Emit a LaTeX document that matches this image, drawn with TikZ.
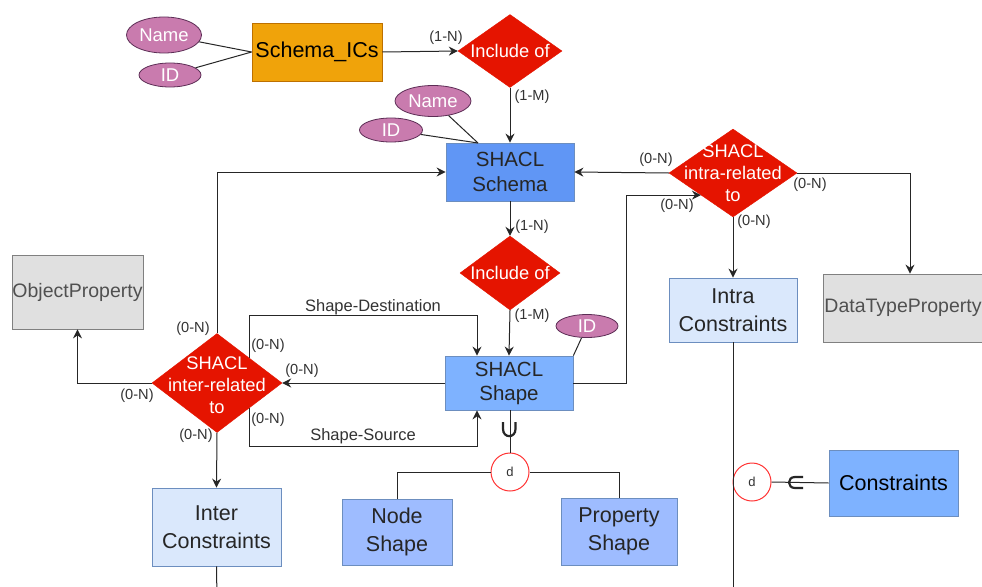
\documentclass[tikz,border=0pt]{standalone}
\usepackage{fontspec}
\setmainfont{Liberation Sans}
\usetikzlibrary{shapes.geometric,arrows.meta}

\definecolor{attrFill}{RGB}{201,123,174}
\definecolor{attrLine}{RGB}{92,45,85}
\definecolor{relRed}{RGB}{229,20,0}
\definecolor{icsFill}{RGB}{240,163,10}
\definecolor{icsLine}{RGB}{189,112,0}
\definecolor{schemaFill}{RGB}{96,150,245}
\definecolor{shapeFill}{RGB}{126,178,255}
\definecolor{subFill}{RGB}{158,188,255}
\definecolor{lightFill}{RGB}{218,232,252}
\definecolor{blueLine}{RGB}{108,142,191}
\definecolor{grayFill}{RGB}{224,224,224}
\definecolor{grayLine}{RGB}{128,128,128}
\definecolor{grayText}{RGB}{80,80,80}
\definecolor{cardText}{RGB}{51,51,51}
\definecolor{dRed}{RGB}{255,51,51}

\newcommand\fsBox{\fontsize{20.5}{23}\selectfont}
\newcommand\fsBig{\fontsize{21.5}{28}\selectfont}
\newcommand\fsRel{\fontsize{18.3}{22}\selectfont}
\newcommand\fsCard{\fontsize{14.6}{16}\selectfont}
\newcommand\fsLink{\fontsize{16.5}{18}\selectfont}
\newcommand\fsAttr{\fontsize{18.5}{20}\selectfont}
\newcommand\fsProp{\fontsize{19.5}{22}\selectfont}
\newcommand\fsD{\fontsize{13}{15}\selectfont}

\begin{document}
\begin{tikzpicture}[x=1pt,y=-1pt,
  box/.style={rectangle, draw=blueLine, line width=0.8pt, inner sep=0pt, align=center, text=black!85},
  attr/.style={ellipse, draw=attrLine, fill=attrFill, line width=0.8pt, text=white, inner sep=0pt, font=\fsAttr},
  rel/.style={diamond, fill=relRed, draw=relRed, inner sep=0pt},
  reltext/.style={text=white, align=center, font=\fsRel},
  card/.style={font=\fsCard, text=cardText, inner sep=1pt},
  linklabel/.style={font=\fsLink, text=cardText, inner sep=1pt},
  arr/.style={-{Stealth[length=9pt,width=9pt,inset=3pt]}, line width=1pt, draw=black!85},
  link/.style={line width=1pt, draw=black!85},
  dnode/.style={circle, draw=dRed, fill=white, line width=1pt, minimum size=38pt, inner sep=0pt, font=\fsD, text=cardText}]

\clip (0,0) rectangle (982,586);
\fill[white] (0,0) rectangle (982,586);

% ---------- entities ----------
\node[box, draw=icsLine, fill=icsFill, minimum width=130pt, minimum height=58pt, font=\fsBig, text=black] (ics) at (317,52) {Schema\_ICs};
\node[box, fill=schemaFill, minimum width=128pt, minimum height=58pt, font=\fsBox] (schema) at (510,172) {SHACL\\[2pt]Schema};
\node[box, fill=shapeFill, minimum width=128pt, minimum height=54pt, font=\fsBox] (shape) at (509,383) {SHACL\\[1pt]Shape};
\node[box, fill=lightFill, minimum width=128pt, minimum height=64pt, font=\fsBig] (intraC) at (733,310) {Intra\\Constraints};
\node[box, fill=lightFill, minimum width=129pt, minimum height=78pt, font=\fsBig] (interC) at (216.5,527) {Inter\\Constraints};
\node[box, fill=subFill, minimum width=110pt, minimum height=66pt, font=\fsBig] (nodeS) at (397,532) {Node\\Shape};
\node[box, fill=subFill, minimum width=116pt, minimum height=67pt, font=\fsBig] (propS) at (619,531.5) {Property\\Shape};
\node[box, fill=shapeFill, minimum width=129pt, minimum height=66pt, font=\fsBig, text=black] (cons) at (893.5,483) {Constraints};
\node[box, draw=grayLine, fill=grayFill, text=grayText, minimum width=131pt, minimum height=74pt, font=\fsProp] (objp) at (77.5,292) {ObjectProperty};
\node[box, draw=grayLine, fill=grayFill, text=grayText, minimum width=174pt, minimum height=68pt, font=\fsProp] (dtp) at (910,308) {\hspace*{-14pt}DataTypeProperty};

% ---------- attributes ----------
\node[attr, minimum width=75pt, minimum height=36pt] (name1) at (164,35) {Name};
\node[attr, minimum width=62pt, minimum height=24pt] (id1) at (170,75) {ID};
\node[attr, minimum width=76pt, minimum height=31pt] (name2) at (433,101) {Name};
\node[attr, minimum width=63pt, minimum height=24pt] (id2) at (391,130) {ID};
\node[attr, minimum width=62pt, minimum height=23pt] (id3) at (587,326) {ID};

% ---------- relationships ----------
\node[rel, minimum width=104pt, minimum height=73pt,
  label={[reltext]center:Include of}] (inc1) at (510,51) {};
\node[rel, minimum width=100pt, minimum height=74pt,
  label={[reltext]center:Include of}] (inc2) at (510,273) {};
\node[rel, minimum width=128pt, minimum height=88pt,
  label={[reltext]center:SHACL\\intra-related\\to}] (intra) at (733,173) {};
\node[rel, minimum width=130pt, minimum height=99pt,
  label={[reltext, yshift=-2pt]center:SHACL\\inter-related\\to}] (inter) at (217,383) {};

% ---------- disjointness circles ----------
\node[dnode] (d1) at (510,472) {d};
\node[dnode] (d2) at (752,482) {d};

% ---------- free ends leaving the page ----------
\coordinate (intraEnd) at (733,600);
\coordinate (interEnd) at (217,600);
\coordinate (schemaAttr) at (478,143);

% ---------- attribute links ----------
\draw[link] (name1) -- (ics.west);
\draw[link] (id1) -- (ics.west);
\draw[link] (name2) -- (schemaAttr);
\draw[link] (id2) -- (schemaAttr);
\draw[link] (id3) -- (shape.north east);

% ---------- relationship links ----------
\draw[arr] (ics.east) -- (inc1.west);
\draw[arr] (inc1.south) -- (schema.north);
\draw[arr] (schema.south) -- (inc2.north);
\draw[arr] (inc2.south) -- (shape.north);
\draw[arr] (intra.west) -- (schema.east);
\draw[arr] (intra.east) -| (dtp.north);
\draw[arr] (intra.south) -- (intraC.north);
\draw[arr] (shape.east) -- ++(53,0) |- (intra.south west);
\draw[arr] (shape.west) -- (inter.east);
\draw[arr] (inter.north) |- (schema.west);
\draw[arr] (inter.west) -| (objp.south);
\draw[arr] (inter.south) -- (interC.north);
\draw[arr] (inter.north east) |- ([xshift=-32pt,yshift=40pt]shape.north) -- ([xshift=-32pt]shape.north);
\draw[arr] (inter.south east) |- ([xshift=-32pt,yshift=-36pt]shape.south) -- ([xshift=-32pt]shape.south);
\draw[link] (intraC.south) -- (intraEnd);
\draw[link] (interC.south) -- (interEnd);

% ---------- specialisation ----------
\draw[link] (shape.south -| d1.north) -- (d1.north);
\draw[link] (d1.west) -| (nodeS.north);
\draw[link] (d1.east) -| (propS.north);
\draw[link] (d2.east) -- (cons.west);
% union mark under SHACL Shape
\draw[line width=2.2pt, black!85] (503,422) -- (503,429) .. controls (503,438.5) and (515.5,438.5) .. (515.5,429) -- (515.5,422);
% subset mark towards Constraints
\draw[line width=2.2pt, black!85] (803,477) -- (795,477) .. controls (787,477) and (787,488) .. (795,488) -- (803,488);

% ---------- cardinalities ----------
\node[card] at (446,38) {(1-N)};
\node[card] at (532,97) {(1-M)};
\node[card] at (532,227) {(1-N)};
\node[card] at (532,316) {(1-M)};
\node[card] at (656,160) {(0-N)};
\node[card] at (810,185) {(0-N)};
\node[card] at (677,206) {(0-N)};
\node[card] at (754,222) {(0-N)};
\node[card] at (193,329) {(0-N)};
\node[card] at (137,396) {(0-N)};
\node[card] at (196,436) {(0-N)};
\node[card] at (268,346) {(0-N)};
\node[card] at (302,371) {(0-N)};
\node[card] at (268,420) {(0-N)};
\node[linklabel] at (373,307) {Shape-Destination};
\node[linklabel] at (363,436) {Shape-Source};
\end{tikzpicture}
\end{document}
